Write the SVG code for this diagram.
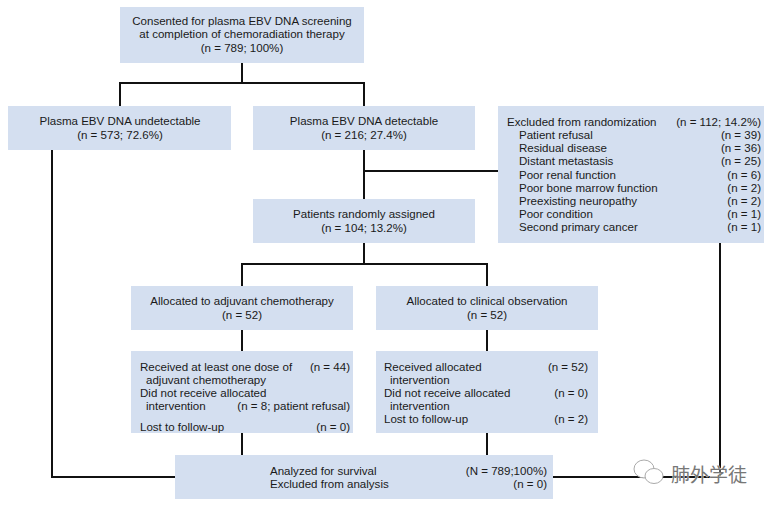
<svg xmlns="http://www.w3.org/2000/svg" width="770" height="506" viewBox="0 0 770 506">
<style>
.b{fill:#d4dff0}
.l{fill:none;stroke:#111;stroke-width:2}
text{font-family:"Liberation Sans",Arial,sans-serif;font-size:11.55px;fill:#1a1a1a}
.m{text-anchor:middle}
.r{text-anchor:end}
.w{font-family:"Noto Sans CJK SC",sans-serif;font-size:19px;fill:#777;stroke:#fff;stroke-width:.7;paint-order:stroke}
.i{fill:#fff;stroke:#aaa;stroke-width:1}
</style>
<rect width="770" height="506" fill="#fff"/>
<g id="connectors">
<path class="l" d="M242 63V83M120 106V83H364V106"/>
<path class="l" d="M52 150V477H175"/>
<path class="l" d="M364 150V199M364 171H498"/>
<path class="l" d="M364 243V264M242 286V264H487V286"/>
<path class="l" d="M242 330V351M487 330V351"/>
<path class="l" d="M242 433V455M487 433V455"/>
<path class="l" d="M720 243V477H553"/>
</g>
<g id="n1"><rect class="b" x="120" y="7" width="244" height="56"/>
<text class="m" x="242" y="25">Consented for plasma EBV DNA screening</text>
<text class="m" x="242" y="38">at completion of chemoradiation therapy</text>
<text class="m" x="242" y="52">(n = 789; 100%)</text></g>
<g id="n2"><rect class="b" x="8" y="106" width="223" height="44"/>
<text class="m" x="120" y="125">Plasma EBV DNA undetectable</text>
<text class="m" x="120" y="139">(n = 573; 72.6%)</text></g>
<g id="n3"><rect class="b" x="253" y="106" width="222" height="44"/>
<text class="m" x="364" y="125">Plasma EBV DNA detectable</text>
<text class="m" x="364" y="139">(n = 216; 27.4%)</text></g>
<g id="n4"><rect class="b" x="498" y="106" width="266" height="137"/>
<text x="507" y="126">Excluded from randomization</text><text class="r" x="761" y="126">(n = 112; 14.2%)</text>
<text x="519" y="139">Patient refusal</text><text class="r" x="761" y="139">(n = 39)</text>
<text x="519" y="152">Residual disease</text><text class="r" x="761" y="152">(n = 36)</text>
<text x="519" y="165">Distant metastasis</text><text class="r" x="761" y="165">(n = 25)</text>
<text x="519" y="179">Poor renal function</text><text class="r" x="761" y="179">(n = 6)</text>
<text x="519" y="192">Poor bone marrow function</text><text class="r" x="761" y="192">(n = 2)</text>
<text x="519" y="205">Preexisting neuropathy</text><text class="r" x="761" y="205">(n = 2)</text>
<text x="519" y="218">Poor condition</text><text class="r" x="761" y="218">(n = 1)</text>
<text x="519" y="231">Second primary cancer</text><text class="r" x="761" y="231">(n = 1)</text></g>
<g id="n5"><rect class="b" x="253" y="199" width="222" height="44"/>
<text class="m" x="364" y="218">Patients randomly assigned</text>
<text class="m" x="364" y="232">(n = 104; 13.2%)</text></g>
<g id="n6"><rect class="b" x="131" y="286" width="222" height="44"/>
<text class="m" x="242" y="305">Allocated to adjuvant chemotherapy</text>
<text class="m" x="242" y="319">(n = 52)</text></g>
<g id="n7"><rect class="b" x="376" y="286" width="222" height="44"/>
<text class="m" x="487" y="305">Allocated to clinical observation</text>
<text class="m" x="487" y="319">(n = 52)</text></g>
<g id="n8"><rect class="b" x="131" y="351" width="222" height="82"/>
<text x="140" y="371">Received at least one dose of</text><text class="r" x="350" y="371">(n = 44)</text>
<text x="146" y="384">adjuvant chemotherapy</text>
<text x="140" y="397">Did not receive allocated</text>
<text x="146" y="410">intervention</text><text class="r" x="350" y="410">(n = 8; patient refusal)</text>
<text x="140" y="431">Lost to follow-up</text><text class="r" x="350" y="431">(n = 0)</text></g>
<g id="n9"><rect class="b" x="376" y="351" width="222" height="82"/>
<text x="384" y="371">Received allocated</text><text class="r" x="588" y="371">(n = 52)</text>
<text x="390" y="384">intervention</text>
<text x="384" y="397">Did not receive allocated</text><text class="r" x="588" y="397">(n = 0)</text>
<text x="390" y="410">intervention</text>
<text x="384" y="423">Lost to follow-up</text><text class="r" x="588" y="423">(n = 2)</text></g>
<g id="n10"><rect class="b" x="175" y="455" width="378" height="44"/>
<text x="270" y="475">Analyzed for survival</text><text class="r" x="547" y="475">(N = 789;100%)</text>
<text x="270" y="488">Excluded from analysis</text><text class="r" x="547" y="488">(n = 0)</text></g>
<g id="mark">
<ellipse class="i" cx="644" cy="469" rx="10" ry="9"/>
<ellipse class="i" cx="654" cy="476" rx="9" ry="7.5"/>
<text class="w" x="671" y="482">肺外学徒</text>
</g>
</svg>
